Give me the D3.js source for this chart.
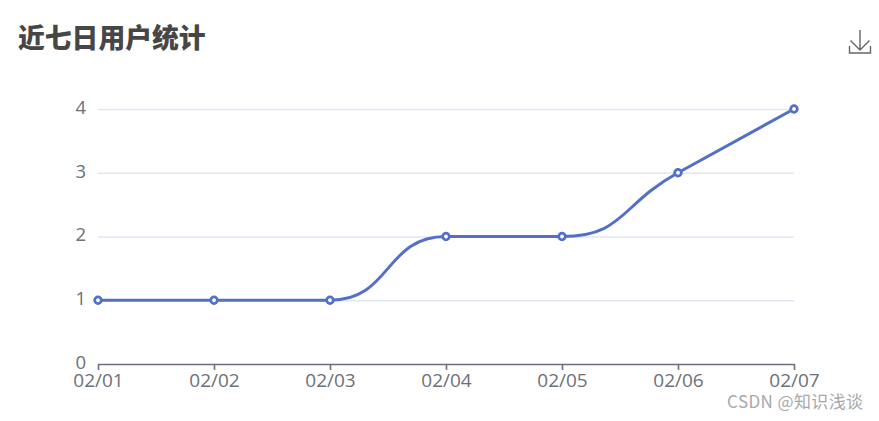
<!DOCTYPE html>
<html><head><meta charset="utf-8">
<script src="https://cdn.jsdelivr.net/npm/d3@7"></script>
<style>html,body{margin:0;padding:0;background:#fff}svg{display:block}</style>
</head><body><svg id="c" width="879" height="421"></svg>
<script>
const categories=["02/01","02/02","02/03","02/04","02/05","02/06","02/07"];
const userCounts=[1,1,1,2,2,3,4];
const yTicks=[0,1,2,3,4];
const titleText="近七日用户统计";
const watermarkText="CSDN @知识浅谈";

const svg=d3.select("#c");
const cjk="'Noto Sans CJK SC','Noto Sans',sans-serif";
const latin="'Open Sans','Noto Sans',sans-serif";
const x=d3.scalePoint().domain(categories).range([98,794]);
const y=d3.scaleLinear().domain([0,4]).range([364,109]);

// Custom d3 curve: tangent smoothing with constrained control points
function SmoothCurve(context){this._context=context;}
SmoothCurve.prototype={
  lineStart(){this._pts=[];},
  point(px,py){this._pts.push([+px,+py]);},
  lineEnd(){
    const p=this._pts,c=this._context,s=0.5,n=p.length;
    const clamp=(v,a,b)=>Math.max(Math.min(a,b),Math.min(Math.max(a,b),v));
    let cp0=p[0].slice();
    c.moveTo(p[0][0],p[0][1]);
    for(let i=0;i<n-1;i++){
      const [px,py]=p[i],[nx,ny]=p[i+1];
      let cpEnd,cpNext;
      if(i+1===n-1){cpEnd=p[i+1].slice();cpNext=cpEnd;}
      else{
        const [ax,ay]=p[i+1],[bx,by]=p[i+2];
        const dx=(bx-px)*s,dy=(by-py)*s;
        const lp=Math.hypot(ax-px,ay-py),ln=Math.hypot(bx-ax,by-ay);
        const r=ln/(ln+lp);
        let c1x=clamp(ax+dx*r,ax,bx),c1y=clamp(ay+dy*r,ay,by);
        let ex=c1x-ax,ey=c1y-ay;
        let c0x=clamp(ax-ex*lp/ln,px,ax),c0y=clamp(ay-ey*lp/ln,py,ay);
        ex=ax-c0x;ey=ay-c0y;
        c1x=ax+ex*ln/lp;c1y=ay+ey*ln/lp;
        cpEnd=[c0x,c0y];cpNext=[c1x,c1y];
      }
      c.bezierCurveTo(cp0[0],cp0[1],cpEnd[0],cpEnd[1],nx,ny);
      cp0=cpNext;
    }
  }
};
const smoothCurve=ctx=>new SmoothCurve(ctx);

svg.append("text").attr("x",18).attr("y",47.5).text(titleText)
  .attr("font-family",cjk).attr("font-weight",900).attr("font-size",26.8).attr("fill","#464646");

// grid
svg.append("g").selectAll("line").data(yTicks.filter(d=>d>0)).join("line")
  .attr("x1",98).attr("x2",794).attr("y1",d=>y(d)+.5).attr("y2",d=>y(d)+.5)
  .attr("stroke","#e0e6f1").attr("stroke-width",1.5);

// y axis labels
const yAxis=d3.axisLeft(y).tickValues(yTicks).tickSize(0).tickPadding(12).tickFormat(d3.format("d"));
const yG=svg.append("g").attr("transform","translate(98,-1.5)").call(yAxis);
yG.select(".domain").remove();
yG.selectAll("text").attr("font-family",latin).attr("font-size",18.5).attr("fill","#6e7079");

// x axis
const xAxis=d3.axisBottom(x).tickSize(6).tickSizeOuter(0).tickPadding(3.5);
const xG=svg.append("g").attr("transform","translate(0,364)").call(xAxis);
xG.select(".domain").attr("stroke","#6e7079").attr("stroke-width",1.6);
xG.selectAll("line").attr("stroke","#6e7079").attr("stroke-width",1.6);
xG.selectAll("text").attr("font-family",latin).attr("font-size",19).attr("fill","#6e7079");

// line
const line=d3.line().x((d,i)=>x(categories[i])).y(d=>y(d)).curve(smoothCurve);
svg.append("path").attr("d",line(userCounts)).attr("fill","none")
  .attr("stroke","#5470c6").attr("stroke-width",3).attr("stroke-linejoin","round");
svg.append("g").selectAll("circle").data(userCounts).join("circle")
  .attr("cx",(d,i)=>x(categories[i])).attr("cy",d=>y(d)).attr("r",3.3)
  .attr("fill","#fff").attr("stroke","#5470c6").attr("stroke-width",2.8);

// download icon
const icon=svg.append("g").attr("fill","none").attr("stroke","#666").attr("stroke-width",1.4);
icon.append("path").attr("d","M860 30V50M850.5 40.5L860 50L869.5 40.5");
icon.append("path").attr("d","M849.5 46V53H870.5V46");

svg.append("text").attr("x",863.5).attr("y",408).attr("text-anchor","end").text(watermarkText)
  .attr("font-family",cjk).attr("font-size",17).attr("fill","#a8a8a8").attr("letter-spacing",0.4);
</script></body></html>
